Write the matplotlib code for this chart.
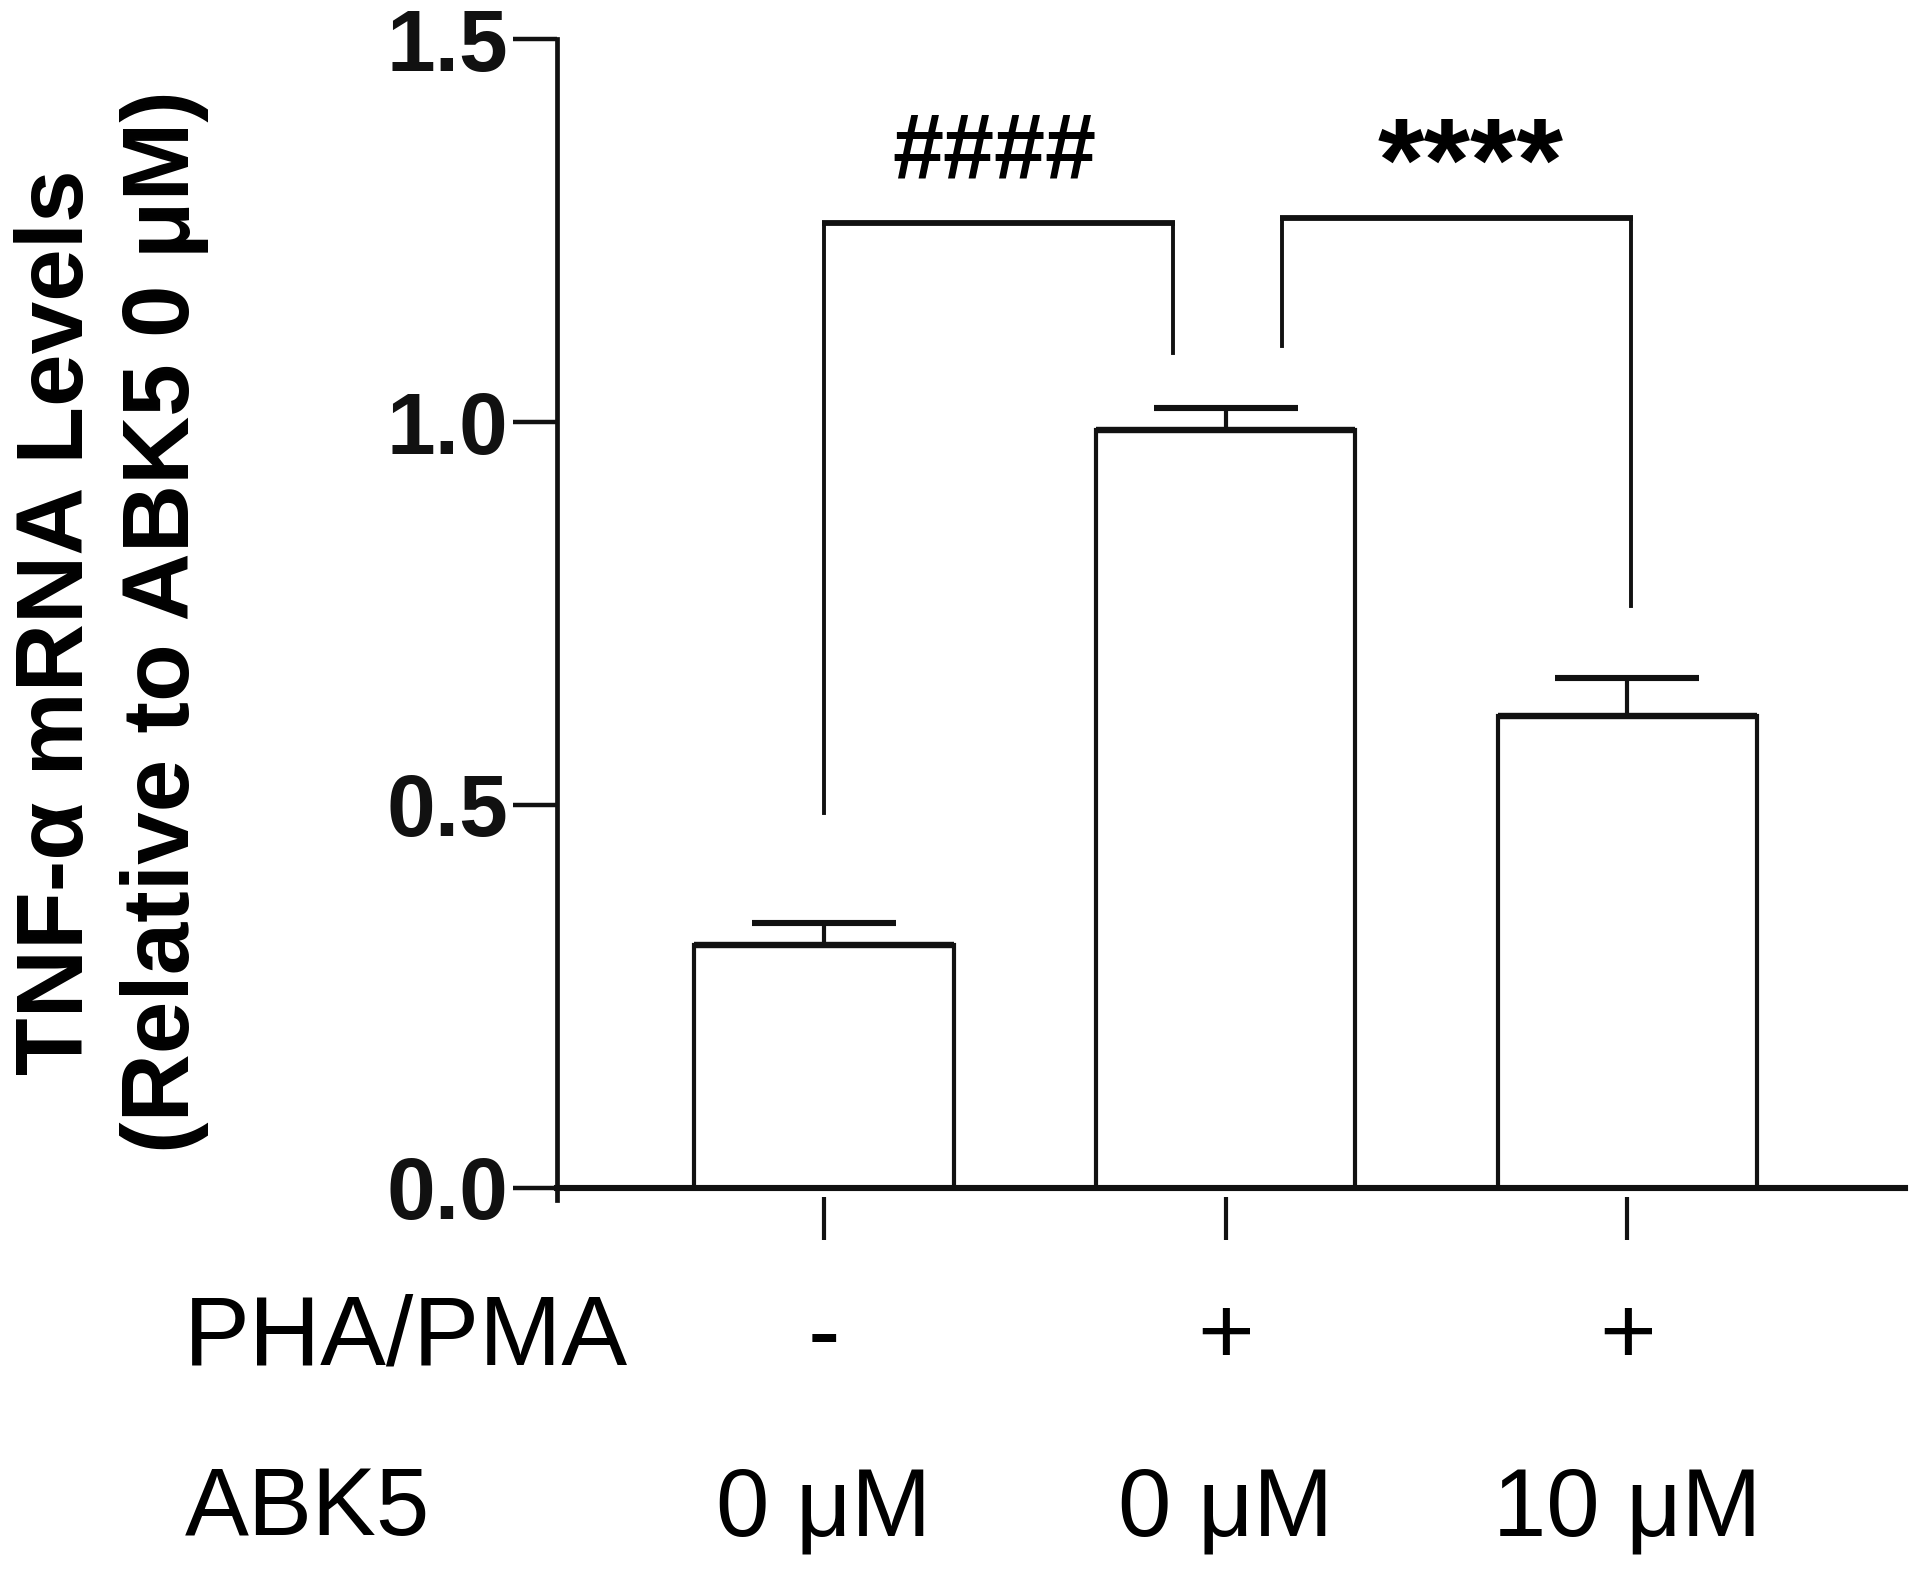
import numpy as np
import matplotlib
matplotlib.use("Agg")
import matplotlib.pyplot as plt
import matplotlib.transforms as mtransforms

plt.rcParams['font.family'] = ['Liberation Sans', 'DejaVu Sans']

# ----- data -----
groups = [0, 1, 2]
means = [0.317, 0.990, 0.616]
errs = [0.029, 0.029, 0.050]
pha_labels = ['-', '+', '+']
abk5_labels = ['0 μM', '0 μM', '10 μM']
y_ticks = [0.0, 0.5, 1.0, 1.5]
y_ticklabels = ['0.0', '0.5', '1.0', '1.5']

# brackets: (x_left, x_right), y_top, (y_left_end, y_right_end), label
brk_x = [(0.0, 0.87), (1.14, 2.01)]
brk_y_top = [1.26, 1.267]
brk_y_ends = [(0.49, 1.09), (1.10, 0.76)]
brk_labels = ['####', '****']

BAR_W = 0.645
INK = '#111111'

# ----- figure -----
fig = plt.figure(figsize=(19.2, 15.74), dpi=100)
ax = fig.add_axes([0.290, 0.2376, 0.702, 0.7374])

ax.bar(groups, means, width=BAR_W, color='white', edgecolor=INK,
       linewidth=3.0, zorder=2)
# thicker top edge of each bar
ax.hlines(means, np.array(groups) - BAR_W / 2, np.array(groups) + BAR_W / 2,
          colors=INK, linewidth=4.6, zorder=3)
eb = ax.errorbar(groups, means, yerr=[np.zeros(3), errs], fmt='none',
                 ecolor=INK, elinewidth=3.0, capsize=52, capthick=4.4, zorder=3)
# keep only the upper cap
eb.lines[1][0].set_visible(False)

for (xl, xr), yt, (yl, yr), lab in zip(brk_x, brk_y_top, brk_y_ends, brk_labels):
    ax.plot([xl, xl], [yl, yt], color=INK, lw=2.8, clip_on=False)
    ax.plot([xr, xr], [yt, yr], color=INK, lw=2.8, clip_on=False)
    ax.plot([xl - 0.004, xr + 0.004], [yt, yt], color=INK, lw=4.2,
            solid_capstyle='butt', clip_on=False)
    if lab.startswith('#'):
        ax.text((xl + xr) / 2 - 0.01, yt + 0.060, lab, ha='center', va='baseline',
                fontsize=66, fontweight='bold')
    else:
        ax.text((xl + xr) / 2 + 0.035, yt + 0.022, lab, ha='center', va='baseline',
                fontsize=86, fontweight='bold')

ax.set_xlim(-0.665, 2.69)
ax.set_ylim(-0.016, 1.5)

for s in ['top', 'right']:
    ax.spines[s].set_visible(False)
ax.spines['bottom'].set_position(('data', 0))
ax.spines['left'].set_linewidth(3.4)
ax.spines['bottom'].set_linewidth(4.4)
ax.spines['left'].set_color(INK)
ax.spines['bottom'].set_color(INK)

ax.set_yticks(y_ticks)
ax.set_yticklabels(y_ticklabels, fontsize=63, fontweight='bold')
ax.tick_params(axis='y', length=32, width=3.2, pad=3, colors=INK)
ax.set_xticks([])

# x ticks drawn a little below the axis line (gap as in the original)
tick_tr = mtransforms.offset_copy(ax.transData, fig=fig, x=0, y=-9, units='dots')
ax.plot(groups, np.zeros(3), linestyle='none', marker=3, markersize=31,
        markeredgewidth=3.0, color=INK, transform=tick_tr, clip_on=False)

# ----- condition rows under the axis -----
trans = mtransforms.blended_transform_factory(ax.transData, fig.transFigure)
for x, p, a in zip(groups, pha_labels, abk5_labels):
    ax.text(x, 0.1490, p, transform=trans, ha='center', va='center', fontsize=70)
    ax.text(x, 0.0405, a, transform=trans, ha='center', va='center', fontsize=69)
fig.text(0.096, 0.1490, 'PHA/PMA', ha='left', va='center', fontsize=71)
fig.text(0.096, 0.0405, 'ABK5', ha='left', va='center', fontsize=69)

# ----- y label -----
fig.text(0.058, 0.605, 'TNF-α mRNA Levels\n(Relative to ABK5 0 μM)', rotation=90,
         ha='center', va='center', fontsize=68, fontweight='bold',
         linespacing=1.25, multialignment='center')

fig.savefig('out.png', dpi=100)
